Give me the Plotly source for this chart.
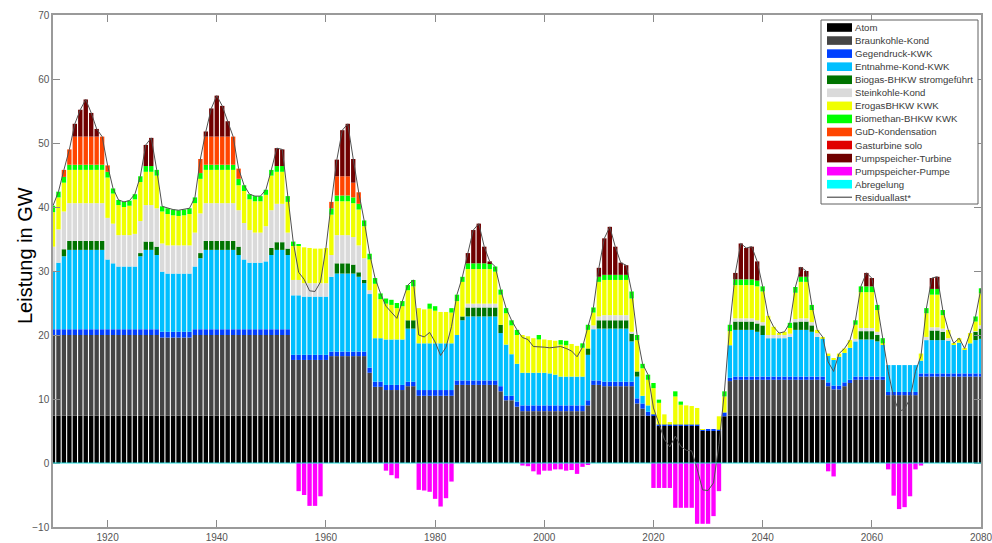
import plotly.graph_objects as go

# Stunden-/Zeitachse: ein Balken pro Schritt
jahre = list(range(1910, 2081))

atom = [
    7.4, 7.4, 7.4, 7.4, 7.4, 7.4, 7.4, 7.4, 7.4, 7.4,
    7.4, 7.4, 7.4, 7.4, 7.4, 7.4, 7.4, 7.4, 7.4, 7.4,
    7.4, 7.4, 7.4, 7.4, 7.4, 7.4, 7.4, 7.4, 7.4, 7.4,
    7.4, 7.4, 7.4, 7.4, 7.4, 7.4, 7.4, 7.4, 7.4, 7.4,
    7.4, 7.4, 7.4, 7.4, 7.4, 7.4, 7.4, 7.4, 7.4, 7.4,
    7.4, 7.4, 7.4, 7.4, 7.4, 7.4, 7.4, 7.4, 7.4, 7.4,
    7.4, 7.4, 7.4, 7.4, 7.4, 7.4, 7.4, 7.4, 7.4, 7.4,
    7.4, 7.4, 7.4, 7.4, 7.4, 7.4, 7.4, 7.4, 7.4, 7.4,
    7.4, 7.4, 7.4, 7.4, 7.4, 7.4, 7.4, 7.4, 7.4, 7.4,
    7.4, 7.4, 7.4, 7.4, 7.4, 7.4, 7.4, 7.4, 7.4, 7.4,
    7.4, 7.4, 7.4, 7.4, 7.4, 7.4, 7.4, 7.4, 7.4, 7.4,
    7.4, 5.8, 5.8, 5.8, 5.8, 5.8, 5.8, 5.8, 5.8, 5.0,
    5.0, 5.0, 5.0, 7.3, 7.4, 7.4, 7.4, 7.4, 7.4, 7.4,
    7.4, 7.4, 7.4, 7.4, 7.4, 7.4, 7.4, 7.4, 7.4, 7.4,
    7.4, 7.4, 7.4, 7.4, 7.4, 7.4, 7.4, 7.4, 7.4, 7.4,
    7.4, 7.4, 7.4, 7.4, 7.4, 7.4, 7.4, 7.4, 7.4, 7.4,
    7.4, 7.4, 7.4, 7.4, 7.4, 7.4, 7.4, 7.4, 7.4, 7.4,
    7.4,
]

braunkohle = [
    12.6, 12.6, 12.6, 12.6, 12.6, 12.6, 12.6, 12.6, 12.6, 12.6,
    12.6, 12.6, 12.6, 12.6, 12.6, 12.6, 12.6, 12.6, 12.6, 12.6,
    12.2, 12.2, 12.2, 12.2, 12.2, 12.2, 12.6, 12.6, 12.6, 12.6,
    12.6, 12.6, 12.6, 12.6, 12.6, 12.6, 12.6, 12.6, 12.6, 12.6,
    12.6, 12.6, 12.6, 12.6, 8.7, 8.7, 8.7, 8.7, 8.7, 8.7,
    8.7, 9.3, 9.3, 9.3, 9.3, 9.3, 9.3, 9.3, 6.7, 4.5,
    4.5, 4.0, 4.0, 4.0, 4.0, 4.6, 4.6, 3.1, 3.1, 3.1,
    3.1, 3.1, 3.1, 3.1, 4.8, 4.8, 4.8, 4.8, 4.8, 4.8,
    4.8, 4.8, 3.8, 2.4, 2.4, 1.4, 0.7, 0.7, 0.7, 0.7,
    0.7, 0.7, 0.7, 0.7, 0.7, 0.7, 0.7, 0.7, 1.6, 4.8,
    4.8, 4.6, 4.6, 4.6, 4.6, 4.6, 4.6, 1.9, 1.1, 0.0,
    0.0, 0.0, 0.0, 0.0, 0.0, 0.0, 0.0, 0.0, 0.0, 0.0,
    0.0, 0.0, 0.0, 0.0, 5.4, 5.6, 5.6, 5.6, 5.6, 5.6,
    5.6, 5.6, 5.6, 5.6, 5.6, 5.6, 5.6, 5.6, 5.6, 5.6,
    5.6, 5.6, 4.6, 4.1, 4.1, 4.6, 5.1, 5.6, 5.6, 5.6,
    5.6, 5.6, 5.6, 3.2, 3.2, 3.2, 3.2, 3.2, 3.2, 6.1,
    6.1, 6.1, 6.1, 6.1, 6.1, 6.1, 6.1, 6.1, 6.1, 6.1,
    6.1,
]

gegendruck = [
    0.9, 0.9, 0.9, 0.9, 0.9, 0.9, 0.9, 0.9, 0.9, 0.9,
    0.9, 0.9, 0.9, 0.9, 0.9, 0.9, 0.9, 0.9, 0.9, 0.9,
    0.9, 0.9, 0.9, 0.9, 0.9, 0.9, 0.9, 0.9, 0.9, 0.9,
    0.9, 0.9, 0.9, 0.9, 0.9, 0.9, 0.9, 0.9, 0.9, 0.9,
    0.9, 0.9, 0.9, 0.9, 0.8, 0.8, 0.8, 0.8, 0.8, 0.8,
    0.8, 0.7, 0.7, 0.7, 0.7, 0.7, 0.7, 0.7, 0.8, 0.8,
    0.8, 0.8, 0.8, 0.8, 0.8, 0.7, 0.7, 0.9, 0.9, 0.9,
    0.9, 0.9, 0.9, 0.9, 0.7, 0.7, 0.7, 0.7, 0.7, 0.7,
    0.7, 0.7, 0.8, 0.7, 0.7, 0.8, 0.9, 0.9, 0.9, 0.9,
    0.9, 0.9, 0.9, 0.9, 0.9, 0.9, 0.9, 0.9, 0.8, 0.7,
    0.7, 0.7, 0.7, 0.7, 0.7, 0.7, 0.7, 0.8, 0.8, 0.6,
    0.2, 0.2, 0.2, 0.2, 0.2, 0.2, 0.2, 0.2, 0.2, 0.2,
    0.2, 0.2, 0.2, 0.6, 0.5, 0.5, 0.5, 0.5, 0.5, 0.5,
    0.5, 0.5, 0.5, 0.5, 0.5, 0.5, 0.5, 0.5, 0.5, 0.5,
    0.5, 0.5, 0.6, 0.6, 0.6, 0.6, 0.5, 0.5, 0.5, 0.5,
    0.5, 0.5, 0.5, 0.5, 0.5, 0.5, 0.5, 0.5, 0.5, 0.5,
    0.5, 0.5, 0.5, 0.5, 0.5, 0.5, 0.5, 0.5, 0.5, 0.5,
    0.5,
]

entnahme = [
    9.1, 10.4, 11.4, 12.4, 12.4, 12.4, 12.4, 12.4, 12.4, 12.4,
    10.9, 10.3, 9.8, 9.8, 9.8, 9.8, 11.4, 12.4, 12.4, 11.6,
    9.4, 9.1, 9.1, 9.1, 9.1, 9.1, 9.8, 11.1, 12.4, 12.4,
    12.4, 12.4, 12.4, 12.4, 11.6, 10.9, 10.4, 10.4, 10.4, 10.6,
    11.6, 12.4, 12.4, 11.6, 9.3, 9.3, 9.1, 9.1, 9.1, 9.1,
    9.1, 11.7, 12.2, 12.2, 12.2, 12.2, 11.7, 10.7, 11.5, 6.8,
    6.8, 7.1, 7.1, 7.1, 7.1, 8.3, 8.3, 7.3, 7.3, 7.3,
    7.3, 7.3, 7.3, 7.3, 7.1, 9.4, 10.0, 10.0, 10.0, 10.0,
    10.0, 10.0, 8.3, 8.0, 6.5, 5.9, 5.1, 5.1, 5.1, 5.1,
    5.1, 5.0, 4.8, 4.5, 4.5, 4.5, 4.5, 4.5, 7.1, 8.0,
    8.1, 8.3, 8.3, 8.3, 8.3, 8.3, 6.3, 3.4, 1.2, 1.0,
    0.0, 0.0, 0.0, 0.0, 0.0, 0.0, 0.0, 0.0, 0.0, 0.0,
    0.0, 0.0, 0.0, 0.0, 5.1, 7.3, 7.3, 7.3, 7.3, 7.0,
    6.5, 6.0, 6.0, 6.0, 6.0, 6.2, 7.3, 7.3, 7.3, 7.0,
    6.2, 6.0, 4.2, 4.0, 4.5, 4.6, 5.0, 5.5, 5.8, 5.8,
    5.8, 5.5, 5.0, 4.2, 4.2, 4.2, 4.2, 4.2, 4.2, 2.0,
    5.2, 5.2, 5.2, 5.2, 5.2, 4.5, 4.8, 3.7, 4.7, 5.2,
    5.4,
]

biogas = [
    0.0, 0.0, 1.1, 1.4, 1.4, 1.4, 1.4, 1.4, 1.4, 1.4,
    0.0, 0.0, 0.0, 0.0, 0.0, 0.0, 0.5, 1.3, 1.3, 1.3,
    0.0, 0.0, 0.0, 0.0, 0.0, 0.0, 0.0, 0.8, 1.4, 1.4,
    1.4, 1.4, 1.4, 1.4, 1.3, 0.0, 0.0, 0.0, 0.0, 0.0,
    1.1, 1.2, 1.2, 1.0, 0.0, 0.0, 0.0, 0.0, 0.0, 0.0,
    0.0, 0.0, 1.6, 1.6, 1.6, 1.4, 0.7, 0.5, 0.0, 0.0,
    0.0, 0.0, 0.0, 0.0, 0.0, 1.3, 1.3, 0.0, 0.0, 0.0,
    0.0, 0.0, 0.0, 0.0, 0.0, 0.6, 1.4, 1.4, 1.4, 1.4,
    1.4, 1.4, 1.3, 0.0, 0.0, 0.0, 0.0, 0.0, 0.0, 0.0,
    0.0, 0.0, 0.0, 0.0, 0.0, 0.0, 0.0, 0.0, 1.0, 0.0,
    1.3, 1.3, 1.3, 1.3, 1.3, 1.3, 1.3, 0.8, 0.0, 0.0,
    0.0, 0.0, 0.0, 0.0, 0.0, 0.0, 0.0, 0.0, 0.0, 0.0,
    0.0, 0.0, 0.0, 0.0, 0.0, 1.3, 1.3, 1.3, 1.3, 1.3,
    1.5, 0.0, 0.0, 0.0, 0.0, 0.0, 1.2, 1.3, 1.3, 1.0,
    0.0, 0.0, 0.0, 0.0, 0.0, 0.0, 0.0, 0.0, 1.3, 1.3,
    1.3, 1.0, 0.0, 0.0, 0.0, 0.0, 0.0, 0.0, 0.0, 0.0,
    0.0, 1.5, 1.5, 1.3, 0.0, 0.0, 0.0, 0.0, 0.0, 1.3,
    1.6,
]

steinkohle = [
    3.8, 5.2, 5.9, 5.9, 5.9, 5.9, 5.9, 5.9, 5.9, 5.9,
    6.5, 6.2, 4.9, 4.9, 4.9, 5.1, 5.0, 5.7, 5.7, 6.0,
    4.4, 4.4, 4.4, 4.4, 4.4, 4.4, 5.3, 6.2, 5.9, 5.9,
    5.9, 5.9, 5.9, 5.9, 5.7, 5.7, 5.1, 4.7, 4.7, 5.5,
    5.9, 6.0, 6.0, 2.5, 2.4, 2.4, 2.1, 2.1, 2.1, 2.1,
    2.1, 3.4, 4.4, 4.4, 4.4, 4.3, 4.2, 3.4, 0.6, 0.0,
    0.0, 0.0, 0.0, 0.0, 0.0, 0.0, 0.0, 0.0, 0.0, 0.0,
    0.0, 0.0, 0.0, 0.0, 0.0, 0.0, 0.6, 0.6, 0.6, 0.6,
    0.6, 0.6, 0.0, 0.0, 0.0, 0.0, 0.0, 0.0, 0.0, 0.0,
    0.0, 0.0, 0.0, 0.0, 0.0, 0.0, 0.0, 0.0, 0.0, 0.6,
    0.6, 0.8, 0.8, 0.8, 0.8, 0.8, 0.2, 0.0, 0.0, 0.0,
    0.0, 0.0, 0.0, 0.0, 0.0, 0.0, 0.0, 0.0, 0.0, 0.0,
    0.0, 0.0, 0.0, 0.0, 0.0, 0.5, 0.5, 0.5, 0.5, 0.5,
    0.5, 0.5, 0.5, 0.5, 0.5, 0.5, 0.5, 0.5, 0.5, 0.5,
    0.6, 0.0, 0.0, 0.0, 0.0, 0.0, 0.0, 0.4, 0.5, 0.5,
    0.5, 0.5, 0.0, 0.0, 0.0, 0.0, 0.0, 0.0, 0.0, 0.0,
    0.5, 0.5, 0.5, 0.5, 0.3, 0.0, 0.0, 0.0, 0.0, 0.1,
    0.5,
]

erdgas = [
    5.4, 5.0, 4.5, 5.2, 5.2, 5.2, 5.2, 5.2, 5.2, 5.2,
    6.3, 4.7, 4.7, 4.4, 4.6, 5.4, 6.1, 5.2, 5.2, 5.1,
    5.0, 4.9, 4.7, 4.6, 4.7, 4.9, 4.6, 5.4, 5.2, 5.2,
    5.2, 5.2, 5.2, 5.2, 3.9, 5.0, 4.8, 4.9, 4.9, 4.9,
    5.4, 5.0, 5.0, 4.8, 5.3, 5.4, 5.6, 5.5, 5.4, 5.4,
    5.5, 6.3, 5.3, 5.3, 5.3, 5.3, 5.6, 5.0, 4.8, 8.5,
    6.1, 5.6, 5.4, 4.9, 5.2, 4.7, 5.3, 5.5, 5.3, 5.4,
    5.1, 4.9, 4.9, 4.8, 5.3, 5.4, 5.4, 5.4, 5.4, 5.4,
    5.4, 5.0, 4.7, 4.9, 4.5, 4.5, 5.9, 5.7, 5.4, 5.2,
    5.2, 5.2, 5.3, 5.0, 4.9, 5.1, 4.8, 4.5, 2.9, 2.0,
    5.4, 5.5, 5.5, 5.5, 5.5, 5.5, 5.2, 4.9, 4.3, 4.0,
    4.1, 3.4, 1.6, 0.4, 4.4, 3.1, 3.0, 2.9, 2.6, 0.1,
    0.0, 0.0, 2.1, 2.5, 2.2, 5.2, 5.2, 5.2, 5.2, 5.3,
    4.8, 3.0, 1.3, 0.3, 0.5, 0.9, 4.1, 5.7, 5.7, 1.9,
    0.5, 0.2, 0.3, 0.3, 0.5, 0.7, 1.2, 2.2, 5.6, 5.6,
    5.6, 3.4, 0.2, 0.0, 0.0, 0.0, 0.0, 0.0, 0.0, 1.1,
    3.7, 5.1, 5.1, 2.1, 1.3, 0.2, 0.7, 0.2, 1.6, 1.5,
    5.0,
]

biomethan = [
    1.0, 0.9, 0.9, 0.8, 0.8, 0.8, 0.8, 0.8, 0.8, 0.8,
    0.9, 0.8, 0.8, 0.8, 0.8, 0.8, 0.9, 0.9, 0.9, 0.9,
    0.8, 0.9, 0.9, 0.9, 0.9, 0.9, 0.9, 0.9, 0.8, 0.8,
    0.8, 0.8, 0.8, 0.8, 1.0, 0.9, 0.8, 0.8, 0.8, 0.8,
    0.9, 0.9, 0.9, 0.9, 0.7, 0.2, 0.0, 0.0, 0.0, 0.0,
    0.0, 1.0, 0.9, 0.9, 0.9, 0.9, 0.9, 0.9, 0.9, 0.9,
    0.9, 0.8, 0.8, 0.8, 0.8, 0.8, 1.0, 0.0, 0.0, 0.8,
    0.7, 0.0, 0.0, 0.7, 1.0, 0.8, 0.9, 0.9, 0.9, 0.9,
    0.9, 0.8, 0.8, 0.8, 0.8, 0.8, 0.0, 0.0, 0.0, 0.7,
    0.0, 0.0, 0.0, 0.7, 0.7, 0.0, 0.0, 0.7, 0.8, 0.8,
    0.8, 0.8, 0.8, 0.8, 0.8, 0.8, 1.1, 0.8, 0.7, 0.8,
    0.8, 0.5, 0.0, 0.0, 0.8, 0.5, 0.0, 0.0, 0.0, 0.0,
    0.0, 0.0, 0.0, 0.8, 1.0, 0.9, 0.9, 0.9, 0.9, 0.9,
    0.8, 0.0, 0.0, 0.0, 0.0, 0.8, 0.9, 0.8, 0.8, 0.8,
    0.0, 0.0, 0.0, 0.0, 0.0, 0.0, 0.0, 0.7, 0.9, 0.9,
    0.9, 0.8, 0.8, 0.0, 0.0, 0.0, 0.0, 0.0, 0.0, 0.0,
    0.8, 0.9, 0.9, 0.8, 0.0, 0.0, 0.0, 0.0, 0.0, 0.8,
    0.8,
]

gud = [
    0.0, 0.0, 1.1, 2.4, 4.4, 4.4, 4.4, 4.4, 4.4, 4.4,
    1.0, 0.0, 0.0, 0.0, 0.0, 0.0, 0.0, 0.0, 0.0, 0.0,
    0.0, 0.0, 0.0, 0.0, 0.0, 0.0, 0.0, 2.2, 4.4, 4.4,
    4.4, 4.4, 4.4, 4.4, 1.6, 0.0, 0.0, 0.0, 0.0, 0.0,
    0.0, 0.0, 0.0, 0.0, 0.0, 0.0, 0.0, 0.0, 0.0, 0.0,
    0.0, 1.0, 3.0, 3.0, 3.0, 2.3, 1.8, 0.0, 0.0, 0.0,
    0.0, 0.0, 0.0, 0.0, 0.0, 0.0, 0.0, 0.0, 0.0, 0.0,
    0.0, 0.0, 0.0, 0.0, 0.0, 0.0, 0.0, 0.0, 0.0, 0.0,
    0.0, 0.0, 0.0, 0.0, 0.0, 0.0, 0.0, 0.0, 0.0, 0.0,
    0.0, 0.0, 0.0, 0.0, 0.0, 0.0, 0.0, 0.0, 0.0, 0.0,
    0.0, 0.0, 0.0, 0.0, 0.0, 0.0, 0.0, 0.0, 0.0, 0.0,
    0.0, 0.0, 0.0, 0.0, 0.0, 0.0, 0.0, 0.0, 0.0, 0.0,
    0.0, 0.0, 0.0, 0.0, 0.0, 0.0, 0.0, 0.0, 0.0, 0.0,
    0.0, 0.0, 0.0, 0.0, 0.0, 0.0, 0.0, 0.0, 0.0, 0.0,
    0.0, 0.0, 0.0, 0.0, 0.0, 0.0, 0.0, 0.0, 0.0, 0.0,
    0.0, 0.0, 0.0, 0.0, 0.0, 0.0, 0.0, 0.0, 0.0, 0.0,
    0.0, 0.0, 0.0, 0.0, 0.0, 0.0, 0.0, 0.0, 0.0, 0.0,
    0.0,
]

gasturbine = [0.0 for _ in jahre]

turbine = [
    0.0, 0.0, 0.0, 0.0, 2.0, 4.2, 5.8, 3.7, 1.2, 0.0,
    0.0, 0.0, 0.0, 0.0, 0.0, 0.0, 0.0, 3.3, 4.4, 0.0,
    0.0, 0.0, 0.0, 0.0, 0.0, 0.0, 0.0, 0.0, 0.8, 4.4,
    6.4, 4.8, 2.4, 0.0, 0.0, 0.0, 0.0, 0.0, 0.0, 0.0,
    0.0, 2.8, 2.6, 0.0, 0.0, 0.0, 0.0, 0.0, 0.0, 0.0,
    0.0, 0.0, 2.6, 7.2, 8.2, 3.7, 0.0, 0.0, 0.0, 0.0,
    0.0, 0.0, 0.0, 0.0, 0.0, 0.0, 0.0, 0.0, 0.0, 0.0,
    0.0, 0.0, 0.0, 0.0, 0.0, 0.0, 1.6, 5.2, 6.2, 2.6,
    0.3, 0.0, 0.0, 0.0, 0.0, 0.0, 0.0, 0.0, 0.0, 0.0,
    0.0, 0.0, 0.0, 0.0, 0.0, 0.0, 0.0, 0.0, 0.0, 0.0,
    1.4, 5.7, 7.5, 4.4, 1.9, 1.5, 0.0, 0.0, 0.0, 0.0,
    0.0, 0.0, 0.0, 0.0, 0.0, 0.0, 0.0, 0.0, 0.0, 0.0,
    0.0, 0.0, 0.0, 0.0, 0.0, 1.0, 5.6, 4.9, 5.1, 3.0,
    0.0, 0.0, 0.0, 0.0, 0.0, 0.0, 0.0, 1.5, 0.9, 0.0,
    0.0, 0.0, 0.0, 0.0, 0.0, 0.0, 0.0, 0.0, 0.0, 2.1,
    1.3, 0.0, 0.0, 0.0, 0.0, 0.0, 0.0, 0.0, 0.0, 0.0,
    0.0, 1.7, 1.9, 0.0, 0.0, 0.0, 0.0, 0.0, 0.0, 0.0,
    0.0,
]

pumpe = [
    0.0, 0.0, 0.0, 0.0, 0.0, 0.0, 0.0, 0.0, 0.0, 0.0,
    0.0, 0.0, 0.0, 0.0, 0.0, 0.0, 0.0, 0.0, 0.0, 0.0,
    0.0, 0.0, 0.0, 0.0, 0.0, 0.0, 0.0, 0.0, 0.0, 0.0,
    0.0, 0.0, 0.0, 0.0, 0.0, 0.0, 0.0, 0.0, 0.0, 0.0,
    0.0, 0.0, 0.0, 0.0, 0.0, -4.4, -5.0, -6.7, -6.7, -5.2,
    0.0, 0.0, 0.0, 0.0, 0.0, 0.0, 0.0, 0.0, 0.0, 0.0,
    0.0, -1.2, -1.9, -2.4, 0.0, 0.0, 0.0, -4.2, -4.3, -4.5,
    -5.6, -6.8, -5.5, -2.9, 0.0, 0.0, 0.0, 0.0, 0.0, 0.0,
    0.0, 0.0, 0.0, 0.0, 0.0, 0.0, -0.4, -0.5, -1.3, -1.8,
    -1.2, -1.2, -1.0, -1.0, -1.2, -1.1, -1.7, -0.6, -0.3, 0.0,
    0.0, 0.0, 0.0, 0.0, 0.0, 0.0, 0.0, 0.0, 0.0, 0.0,
    -3.9, -3.9, -3.9, -3.9, -7.0, -7.0, -7.0, -7.0, -9.5, -9.5,
    -9.5, -8.3, -4.4, 0.0, 0.0, 0.0, 0.0, 0.0, 0.0, 0.0,
    0.0, 0.0, 0.0, 0.0, 0.0, 0.0, 0.0, 0.0, 0.0, 0.0,
    0.0, 0.0, -1.3, -2.1, 0.0, 0.0, 0.0, 0.0, 0.0, 0.0,
    0.0, 0.0, 0.0, -1.0, -5.1, -7.2, -6.9, -5.2, -1.0, -0.4,
    0.0, 0.0, 0.0, 0.0, 0.0, 0.0, 0.0, 0.0, 0.0, 0.0,
    0.0,
]

abregelung = [0.0 for _ in jahre]

reihen = [
    ("Atom", atom, "#000000"),
    ("Braunkohle-Kond", braunkohle, "#454545"),
    ("Gegendruck-KWK", gegendruck, "#0040ff"),
    ("Entnahme-Kond-KWK", entnahme, "#00bfff"),
    ("Biogas-BHKW stromgeführt", biogas, "#007400"),
    ("Steinkohle-Kond", steinkohle, "#dadada"),
    ("ErogasBHKW KWK", erdgas, "#f0ff00"),
    ("Biomethan-BHKW KWK", biomethan, "#00ff00"),
    ("GuD-Kondensation", gud, "#ff4500"),
    ("Gasturbine solo", gasturbine, "#e00000"),
    ("Pumpspeicher-Turbine", turbine, "#700000"),
    ("Pumpspeicher-Pumpe", pumpe, "#ff00ff"),
    ("Abregelung", abregelung, "#00ffff"),
]

for name, werte, _ in reihen:
    assert len(werte) == len(jahre), name

# Residuallast = Summe aller Erzeuger abzüglich Pumpleistung
residuallast = [round(sum(v), 2) for v in zip(*[w for _, w, _ in reihen])]

fig = go.Figure()
for name, werte, farbe in reihen:
    fig.add_trace(go.Bar(
        x=jahre, y=werte, name=name,
        marker=dict(color=farbe, line=dict(width=0)),
        showlegend=False,
    ))

fig.add_trace(go.Scatter(
    x=jahre, y=residuallast, name="Residuallast*", mode="lines",
    line=dict(color="#505050", width=1), showlegend=False,
))

FONT = "Liberation Sans, Arial, sans-serif"

# Plotbereich in Pixeln: x 53..981, y 15..527
L, R, T, B = 53, 981, 15, 527
W, H = R - L, B - T


def px(x):
    return (x - L) / W


def py(y):
    return (B - y) / H


shapes = []
annotations = []

# Nulllinie (Abregelung)
shapes.append(dict(type="line", xref="paper", yref="y", x0=0, x1=1, y0=0, y1=0,
                   line=dict(color="#20e0e0", width=1.2), layer="above"))

# Legendenrahmen
shapes.append(dict(type="rect", xref="paper", yref="paper",
                   x0=px(821), x1=px(978), y0=py(204), y1=py(20),
                   fillcolor="white", line=dict(color="#606060", width=1), layer="above"))

legende = [(n, f) for n, _, f in reihen] + [("Residuallast*", None)]
for i, (name, farbe) in enumerate(legende):
    yc = 27.5 + 13.06 * i
    if farbe is not None:
        shapes.append(dict(type="rect", xref="paper", yref="paper",
                           x0=px(827), x1=px(852), y0=py(yc + 4.3), y1=py(yc - 4.3),
                           fillcolor=farbe, line=dict(width=0), layer="above"))
    else:
        shapes.append(dict(type="line", xref="paper", yref="paper",
                           x0=px(827), x1=px(852), y0=py(yc), y1=py(yc),
                           line=dict(color="#707070", width=1.5), layer="above"))
    annotations.append(dict(xref="paper", yref="paper", x=px(853), y=py(yc),
                            text=name, showarrow=False, xanchor="left", yanchor="middle",
                            font=dict(family=FONT, size=9.6, color="#3a3a3a")))

annotations.append(dict(xref="paper", yref="paper", x=px(25), y=py(256),
                        text="Leistung in GW", textangle=-90, showarrow=False,
                        xanchor="center", yanchor="middle",
                        font=dict(family=FONT, size=20, color="#000000")))

achse = dict(showline=True, linecolor="#9a9a9a", linewidth=1.5, mirror="ticks",
             ticks="inside", ticklen=7, tickcolor="#8a8a8a", tickwidth=1,
             showgrid=False, zeroline=False, automargin=False,
             ticklabeloverflow="allow",
             tickfont=dict(family=FONT, size=10, color="#555555"))

fig.update_layout(
    width=992, height=543,
    margin=dict(l=L, r=992 - R, t=T, b=543 - B, pad=0),
    paper_bgcolor="white", plot_bgcolor="white",
    barmode="relative", bargap=0.2,
    shapes=shapes, annotations=annotations,
    showlegend=False,
    xaxis=dict(range=[1910, 2080], tickvals=list(range(1920, 2081, 20)), **achse),
    yaxis=dict(range=[-10, 70], tickvals=list(range(-10, 71, 10)), **achse),
)

fig.write_html("out.html")
